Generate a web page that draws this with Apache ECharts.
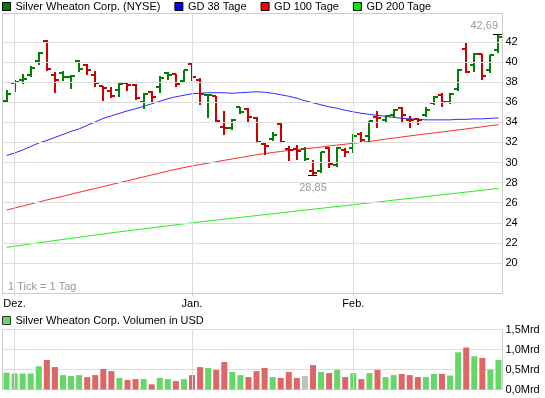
<!DOCTYPE html>
<html>
<head>
<meta charset="utf-8">
<script src="https://cdn.jsdelivr.net/npm/echarts@6/dist/echarts.min.js"></script>
<style>
  html, body { margin: 0; padding: 0; background: #fff; }
  #chart { width: 545px; height: 398px; }
</style>
</head>
<body>
<div id="chart"></div>
<script>
// Handelstage (Kategorien)
var days = ['30.11.',
  '01.12.', '02.12.', '03.12.', '06.12.', '07.12.', '08.12.', '09.12.', '10.12.', '13.12.', '14.12.', '15.12.',
  '16.12.', '17.12.', '20.12.', '21.12.', '22.12.', '23.12.', '27.12.', '28.12.', '29.12.', '30.12.', '31.12.',
  '03.01.', '04.01.', '05.01.', '06.01.', '07.01.', '10.01.', '11.01.', '12.01.', '13.01.', '14.01.', '18.01.',
  '19.01.', '20.01.', '21.01.', '24.01.', '25.01.', '26.01.', '27.01.', '28.01.', '31.01.',
  '01.02.', '02.02.', '03.02.', '04.02.', '07.02.', '08.02.', '09.02.', '10.02.', '11.02.', '14.02.', '15.02.',
  '16.02.', '17.02.', '18.02.', '22.02.', '23.02.', '24.02.', '25.02.', '28.02.'];
var monthLabels = { '01.12.': 'Dez.', '03.01.': 'Jan.', '01.02.': 'Feb.' };

var open = [36.1, 37.9, 38.17, 38.67, 40.07, 42.1, 38.67, 38.9, 38.5, 40.1,
  39.67, 38.67, 37.6, 37.17, 37.24, 37.9, 37.77, 36.0, 37.0, 37.5,
  38.9, 38.77, 38.1, 39.85, 38.2, 36.7, 36.6, 33.5, 33.4, 35.5,
  35.37, 34.4, 31.8, 32.3, 33.84, 31.3, 31.3, 31.3, 29.2, 29.17,
  31.44, 29.77, 31.24, 31.44, 32.84, 32.67, 34.5, 34.24, 34.77, 35.44,
  34.27, 34.34, 34.77, 35.9, 36.77, 36.0, 37.34, 41.34, 39.67, 40.77,
  39.17, 41.17];
var high = [37.24, 38.24, 38.77, 39.57, 41.0, 42.2, 39.0, 39.1, 38.67, 40.17,
  39.8, 39.1, 37.67, 37.57, 37.9, 38.0, 37.8, 36.9, 37.1, 38.57,
  39.0, 38.84, 39.24, 40.05, 38.4, 36.8, 36.67, 35.17, 34.34, 35.57,
  35.47, 34.5, 32.0, 33.0, 33.9, 31.67, 31.7, 31.57, 30.24, 31.0,
  31.5, 31.5, 31.44, 32.84, 33.0, 34.17, 35.17, 34.77, 35.34, 35.57,
  34.67, 34.44, 35.5, 36.67, 36.9, 36.9, 39.34, 42.0, 40.94, 40.84,
  40.74, 42.69];
var low = [36.0, 37.1, 37.9, 38.57, 39.77, 39.24, 37.0, 38.17, 37.44, 39.1,
  38.84, 37.67, 36.24, 36.57, 36.67, 37.24, 36.34, 35.44, 36.1, 37.0,
  38.34, 37.67, 38.0, 38.2, 35.8, 34.5, 34.1, 32.84, 33.34, 34.9,
  34.17, 32.0, 30.84, 32.2, 32.0, 30.3, 30.34, 30.24, 28.85, 29.1,
  29.57, 29.67, 30.67, 31.0, 32.0, 32.0, 33.57, 34.0, 34.5, 34.17,
  33.5, 33.84, 34.67, 35.84, 35.67, 35.9, 37.24, 39.0, 39.1, 38.34,
  39.0, 41.0];
var close = [36.84, 38.0, 38.3, 39.44, 40.9, 39.28, 38.24, 38.5, 38.57, 39.34,
  39.24, 37.94, 37.4, 36.6, 37.84, 37.77, 36.44, 36.84, 36.57, 38.44,
  38.67, 37.84, 39.17, 38.5, 36.8, 36.77, 34.17, 33.4, 34.27, 35.0,
  34.57, 32.0, 31.6, 32.7, 32.05, 31.27, 31.17, 30.4, 29.0, 31.0,
  29.9, 31.44, 31.0, 32.67, 32.24, 34.1, 34.44, 34.67, 35.24, 34.77,
  34.24, 34.24, 35.24, 36.57, 36.0, 36.84, 39.24, 39.0, 40.84, 38.57,
  40.67, 42.5];
// 1 = gestiegen, -1 = gefallen, 0 = unveraendert
var trend = [1, 1, 1, 1, 1, -1, -1, 1, 1, 1,
  -1, -1, -1, -1, 1, -1, -1, 1, -1, 1,
  1, -1, 1, -1, -1, 1, -1, -1, 1, 1,
  -1, -1, -1, 1, -1, -1, -1, 0, -1, 1,
  -1, 1, -1, 1, -1, 1, -1, 1, 1, -1,
  -1, -1, 1, 1, -1, 1, 1, -1, 1, -1,
  1, 1];

var gd38 = [30.7, 30.95, 31.25, 31.6, 31.95, 32.2, 32.5, 32.8, 33.1, 33.35,
  33.7, 34.05, 34.4, 34.65, 34.9, 35.15, 35.35, 35.6, 35.85, 36.1,
  36.35, 36.55, 36.7, 36.85, 36.9, 36.95, 36.95, 36.95, 36.9, 36.95,
  37.0, 37.05, 37.0, 36.9, 36.75, 36.6, 36.4, 36.15, 35.95, 35.75,
  35.55, 35.4, 35.2, 35.05, 34.9, 34.8, 34.7, 34.6, 34.5, 34.4,
  34.35, 34.3, 34.25, 34.25, 34.25, 34.25, 34.3, 34.3, 34.35, 34.35,
  34.4, 34.45];
var gd100 = [25.27, 25.47, 25.67, 25.87, 26.07, 26.27, 26.46, 26.65, 26.85, 27.04,
  27.23, 27.42, 27.61, 27.81, 28.0, 28.19, 28.38, 28.57, 28.77, 28.96,
  29.15, 29.33, 29.5, 29.66, 29.8, 29.94, 30.08, 30.22, 30.36, 30.5,
  30.63, 30.77, 30.89, 31.0, 31.1, 31.2, 31.29, 31.37, 31.45, 31.55,
  31.65, 31.74, 31.83, 31.92, 32.01, 32.1, 32.21, 32.32, 32.43, 32.54,
  32.65, 32.75, 32.85, 32.95, 33.05, 33.15, 33.25, 33.35, 33.46, 33.56,
  33.67, 33.77];
var gd200 = [21.56, 21.67, 21.78, 21.9, 22.01, 22.12, 22.23, 22.34, 22.45, 22.56,
  22.67, 22.78, 22.89, 23.0, 23.1, 23.2, 23.3, 23.4, 23.5, 23.6,
  23.7, 23.8, 23.9, 24.0, 24.09, 24.18, 24.27, 24.36, 24.45, 24.54,
  24.63, 24.72, 24.81, 24.9, 24.99, 25.08, 25.17, 25.26, 25.35, 25.44,
  25.53, 25.62, 25.71, 25.8, 25.89, 25.98, 26.07, 26.16, 26.25, 26.34,
  26.43, 26.52, 26.61, 26.7, 26.79, 26.88, 26.97, 27.06, 27.15, 27.24,
  27.33, 27.42];

// Volumen in Mrd USD
var volume = [0.42, 0.40, 0.40, 0.40, 0.58, 0.74, 0.56, 0.36, 0.34, 0.36,
  0.31, 0.36, 0.51, 0.46, 0.29, 0.24, 0.26, 0.26, 0.13, 0.29,
  0.26, 0.21, 0.26, 0.36, 0.56, 0.54, 0.49, 0.69, 0.44, 0.36,
  0.31, 0.46, 0.54, 0.31, 0.29, 0.44, 0.29, 0.34, 0.61, 0.44,
  0.41, 0.49, 0.31, 0.41, 0.26, 0.41, 0.49, 0.31, 0.36, 0.39,
  0.36, 0.31, 0.31, 0.39, 0.39, 0.35, 0.93, 1.05, 0.83, 0.79,
  0.50, 0.74];

var priceTicks = [20, 22, 24, 26, 28, 30, 32, 34, 36, 38, 40, 42];

var FONT = '"Liberation Sans", Arial, sans-serif';
var hiIdx = high.indexOf(Math.max.apply(null, high));
var loIdx = low.indexOf(Math.min.apply(null, low));

function isMonthStart(idx, val) {
    return monthLabels[val] !== undefined;
}
function fmt(v) {
    return v.toFixed(2).replace('.', ',');
}

var ohlc = days.map(function (d, i) {
    return [i, open[i], high[i], low[i], close[i]];
});

// OHLC-Balken: senkrechter Strich, links Eroeffnung, rechts Schluss
function renderOhlc(params, api) {
    var i = api.value(0);
    var pO = api.coord([i, api.value(1)]);
    var pH = api.coord([i, api.value(2)]);
    var pL = api.coord([i, api.value(3)]);
    var pC = api.coord([i, api.value(4)]);
    var x = Math.round(pH[0]);
    var color = trend[i] < 0 ? '#cc0000' : '#008000';
    var yO = Math.round(pO[1]);
    var yC = Math.round(pC[1]);
    var w = 2;
    var kids = [
        { type: 'line', shape: { x1: x, y1: Math.round(pH[1]), x2: x, y2: Math.round(pL[1]) + 1 },
          style: { stroke: color, lineWidth: w } },
        { type: 'line', shape: { x1: x - 4, y1: yO, x2: x, y2: yO }, style: { stroke: color, lineWidth: w } },
        { type: 'line', shape: { x1: x, y1: yC, x2: x + 4, y2: yC }, style: { stroke: color, lineWidth: w } }
    ];
    var right = params.coordSys.x + params.coordSys.width;
    if (i === hiIdx) {
        var yh = Math.round(pH[1]) - 0.5;
        kids.push({ type: 'line', shape: { x1: x - 5, y1: yh, x2: x + 4, y2: yh }, style: { stroke: '#000', lineWidth: 1 } });
        kids.push({ type: 'text', style: { text: fmt(high[i]), x: x, y: yh - 9,
            align: x > right - 20 ? 'right' : 'center', verticalAlign: 'middle',
            fill: '#999', fontSize: 11, fontFamily: FONT } });
    }
    if (i === loIdx) {
        var yl = Math.round(pL[1]) + 1.5;
        kids.push({ type: 'line', shape: { x1: x - 5, y1: yl, x2: x + 4, y2: yl }, style: { stroke: '#000', lineWidth: 1 } });
        kids.push({ type: 'text', style: { text: fmt(low[i]), x: x, y: yl + 12,
            align: 'center', verticalAlign: 'middle', fill: '#999', fontSize: 11, fontFamily: FONT } });
    }
    return { type: 'group', children: kids };
}

var myChart = echarts.init(document.getElementById('chart'));
var gridLine = { color: '#dddddd', type: 'solid', width: 1 };

var option = {
    animation: false,
    backgroundColor: '#fff',
    textStyle: { fontFamily: FONT },
    legend: [{
        left: 2, top: 1, padding: 0,
        icon: 'rect', itemWidth: 8, itemHeight: 8, itemGap: 14,
        selectedMode: false,
        textStyle: { fontSize: 11, color: '#000', fontFamily: FONT },
        data: [
            { name: 'Silver Wheaton Corp. (NYSE)', itemStyle: { color: '#008000', borderColor: '#000', borderWidth: 1 } },
            { name: 'GD 38 Tage', itemStyle: { color: '#0000ff', borderColor: '#000', borderWidth: 1 } },
            { name: 'GD 100 Tage', itemStyle: { color: '#ff0000', borderColor: '#000', borderWidth: 1 } },
            { name: 'GD 200 Tage', itemStyle: { color: '#00ee00', borderColor: '#000', borderWidth: 1 } }
        ]
    }, {
        left: 2, top: 315, padding: 0,
        icon: 'rect', itemWidth: 8, itemHeight: 8,
        selectedMode: false,
        textStyle: { fontSize: 11, color: '#000', fontFamily: FONT },
        data: [
            { name: 'Silver Wheaton Corp. Volumen in USD', itemStyle: { color: '#66d666', borderColor: '#333', borderWidth: 1 } }
        ]
    }],
    graphic: [{
        type: 'text', left: 8, top: 281,
        style: { text: '1 Tick = 1 Tag', fill: '#999', fontSize: 11, fontFamily: FONT }
    }],
    grid: [
        { left: 2.5, top: 13.5, width: 500, height: 280, show: true, borderColor: '#cccccc', borderWidth: 1 },
        { left: 2.5, top: 329.5, width: 500, height: 60, show: true, borderColor: '#cccccc', borderWidth: 1 }
    ],
    xAxis: [{
        type: 'category', gridIndex: 0, data: days,
        axisLine: { show: false },
        axisTick: { show: true, alignWithLabel: true, interval: isMonthStart, length: 3, lineStyle: { color: '#cccccc' } },
        axisLabel: { interval: isMonthStart, formatter: function (v) { return monthLabels[v] || ''; },
            margin: 5, fontSize: 11, color: '#000', fontFamily: FONT },
        splitLine: { show: false }
    }, {
        type: 'category', gridIndex: 1, data: days,
        axisLine: { show: false }, axisTick: { show: false }, axisLabel: { show: false },
        splitLine: { show: false }
    }],
    yAxis: [{
        type: 'value', gridIndex: 0, position: 'right',
        min: 16.96, max: 44.84, minInterval: 2, maxInterval: 2,
        axisLine: { show: false }, axisTick: { show: false },
        splitLine: { show: false },
        axisLabel: { margin: 3, fontSize: 11, color: '#000', fontFamily: FONT,
            formatter: function (v) { return priceTicks.indexOf(v) >= 0 ? String(v) : ''; } }
    }, {
        type: 'value', gridIndex: 1, position: 'right',
        min: 0, max: 1.5, interval: 0.5,
        axisLine: { show: false }, axisTick: { show: false },
        splitLine: { show: true, lineStyle: gridLine },
        axisLabel: { margin: 3, fontSize: 11, color: '#000', fontFamily: FONT,
            formatter: function (v) { return v.toFixed(1).replace('.', ',') + 'Mrd'; } }
    }],
    series: [{
        // Gitternetz Kurschart
        name: 'raster', type: 'line', xAxisIndex: 0, yAxisIndex: 0, data: [], z: 1,
        markLine: {
            silent: true, symbol: 'none', label: { show: false }, lineStyle: gridLine,
            data: priceTicks.map(function (v) { return { yAxis: v }; })
                .concat(Object.keys(monthLabels).map(function (d) { return { xAxis: d }; }))
        }
    }, {
        name: 'raster2', type: 'line', xAxisIndex: 1, yAxisIndex: 1, data: [], z: 1,
        markLine: {
            silent: true, symbol: 'none', label: { show: false }, lineStyle: gridLine,
            data: Object.keys(monthLabels).map(function (d) { return { xAxis: d }; })
        }
    }, {
        name: 'GD 200 Tage', type: 'line', xAxisIndex: 0, yAxisIndex: 0,
        data: gd200, showSymbol: false, color: '#00ee00',
        lineStyle: { color: '#22ee22', width: 1 }, z: 3
    }, {
        name: 'GD 100 Tage', type: 'line', xAxisIndex: 0, yAxisIndex: 0,
        data: gd100, showSymbol: false, color: '#ff0000',
        lineStyle: { color: '#ff2a2a', width: 1 }, z: 3
    }, {
        name: 'GD 38 Tage', type: 'line', xAxisIndex: 0, yAxisIndex: 0,
        data: gd38, showSymbol: false, color: '#0000ff',
        lineStyle: { color: '#2a2aff', width: 1 }, z: 3
    }, {
        name: 'Silver Wheaton Corp. (NYSE)', type: 'custom', xAxisIndex: 0, yAxisIndex: 0,
        color: '#008000', renderItem: renderOhlc, data: ohlc, z: 4, clip: false
    }, {
        name: 'Silver Wheaton Corp. Volumen in USD', type: 'bar', xAxisIndex: 1, yAxisIndex: 1,
        barWidth: 6, color: '#66d666',
        data: volume.map(function (v, i) {
            return { value: v, itemStyle: { color: trend[i] > 0 ? '#66d666' : (trend[i] < 0 ? '#dd6666' : '#c0c0c0') } };
        })
    }]
};
myChart.setOption(option);
</script>
</body>
</html>
